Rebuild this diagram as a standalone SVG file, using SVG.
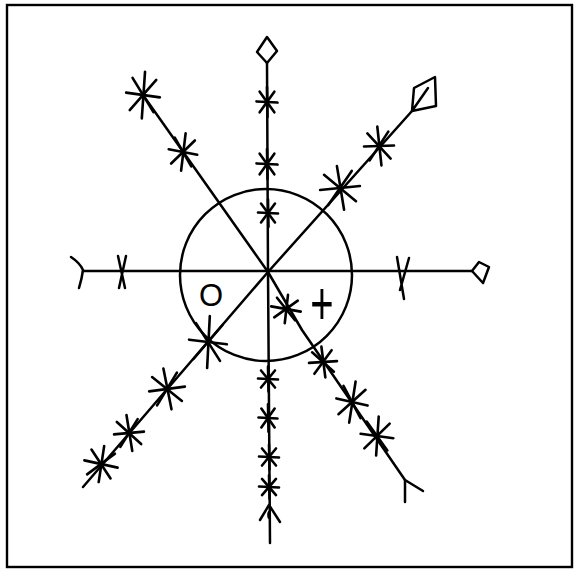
<svg xmlns="http://www.w3.org/2000/svg" xmlns:xlink="http://www.w3.org/1999/xlink" width="577" height="570" viewBox="0 0 577 570">
<style>
.ln{fill:none;stroke:#000;stroke-width:2.5;stroke-linecap:round;stroke-linejoin:round}
.st line{stroke:#000;stroke-width:2.6;stroke-linecap:round;vector-effect:non-scaling-stroke}
.txt{font-family:"Liberation Sans",Arial,sans-serif;fill:#000}
</style>
<defs>
<g id="ast" class="st">
<line x1="-10" y1="-0.5" x2="10" y2="0.5"/>
<line x1="0" y1="-13" x2="0.5" y2="13"/>
<line x1="-7" y1="-9" x2="7" y2="9"/>
<line x1="7" y1="-9" x2="-7" y2="9"/>
</g>
</defs>
<rect x="0" y="0" width="577" height="570" fill="#fff"/>
<rect id="frame" x="7" y="5" width="565" height="562" fill="none" stroke="#000" stroke-width="2.4"/>
<g id="circle"><circle cx="266" cy="275" r="86" class="ln"/></g>
<g id="connectors">
<path class="ln" d="M83,271 L472,271"/>
<path class="ln" d="M267,63 L268,272 L270,543"/>
<path class="ln" d="M268,272 L412,111"/>
<path class="ln" d="M268,272 L83,487"/>
<path class="ln" d="M143,95 L268,272"/>
<path class="ln" d="M268,272 L302,330 L405,480"/>
</g>
<g id="left-end"><path class="ln" d="M71,257 Q80,263 83,270 Q82,278 79,288"/></g>
<g id="left-tick" class="ln"><path d="M118,256 L125,288 M126,256 L119,288"/></g>
<g id="right-tick" class="ln"><path d="M397,257 L404,299 M409,258 L400,290"/></g>
<g id="right-diamond"><path class="ln" d="M472,271 L479,262 L489,267 L483,283 Z"/></g>
<g id="top-diamond"><path class="ln" d="M267,37 L277,51 L267,63 L257,52 Z"/></g>
<g id="kite"><path class="ln" d="M412,111 L414,88 L435,77 L436,106 Z M412,111 L428,88"/></g>
<g id="bottom-end"><path class="ln" d="M260,520 L269,505 L280,522"/><ellipse cx="269" cy="515" rx="1.8" ry="4" fill="#000"/></g>
<g id="se-end"><path class="ln" d="M405,502 L405,480 L423,491"/></g>
<g id="stars-top">
<use xlink:href="#ast" transform="translate(267,102) scale(1.05,1.15)"/>
<use xlink:href="#ast" transform="translate(267,164) scale(1.05,1.15)"/>
<use xlink:href="#ast" transform="translate(268,213) scale(1,1.05)"/>
</g>
<g id="stars-bottom">
<use xlink:href="#ast" transform="translate(268,379) scale(1,0.95)"/>
<use xlink:href="#ast" transform="translate(268,418) scale(0.95,1.05)"/>
<use xlink:href="#ast" transform="translate(269,457) scale(1,0.95)"/>
<use xlink:href="#ast" transform="translate(269,487) scale(1,0.9)"/>
</g>
<g id="stars-nw">
<use xlink:href="#ast" transform="translate(143,95) rotate(5) scale(1.7,1.8)"/>
<use xlink:href="#ast" transform="translate(183,152) rotate(8) scale(1.45,1.45)"/>
</g>
<g id="stars-ne">
<use xlink:href="#ast" transform="translate(379,146) rotate(-5) scale(1.5,1.5)"/>
<use xlink:href="#ast" transform="translate(340,188) rotate(-8) scale(2,1.7)"/>
</g>
<g id="stars-sw">
<use xlink:href="#ast" transform="translate(208,342) rotate(4) scale(1.9,2)"/>
<use xlink:href="#ast" transform="translate(167,389) rotate(-10) scale(1.8,1.6)"/>
<use xlink:href="#ast" transform="translate(129,433) rotate(-8) scale(1.5,1.4)"/>
<use xlink:href="#ast" transform="translate(101,464) rotate(10) scale(1.7,1.4)"/>
</g>
<g id="stars-se">
<use xlink:href="#ast" transform="translate(286,309) rotate(8) scale(1.5,1.1)"/>
<use xlink:href="#ast" transform="translate(323,362) rotate(-6) scale(1.4,1.2)"/>
<use xlink:href="#ast" transform="translate(352,402) rotate(10) scale(1.6,1.6)"/>
<use xlink:href="#ast" transform="translate(377,436) rotate(5) scale(1.65,1.5)"/>
</g>
<g id="symbols">
<text class="txt" x="211" y="306" font-size="31" text-anchor="middle">O</text>
<text class="txt" transform="translate(322,302) scale(1,1.55)" x="0" y="14" font-size="40" text-anchor="middle">+</text>
</g>
</svg>
